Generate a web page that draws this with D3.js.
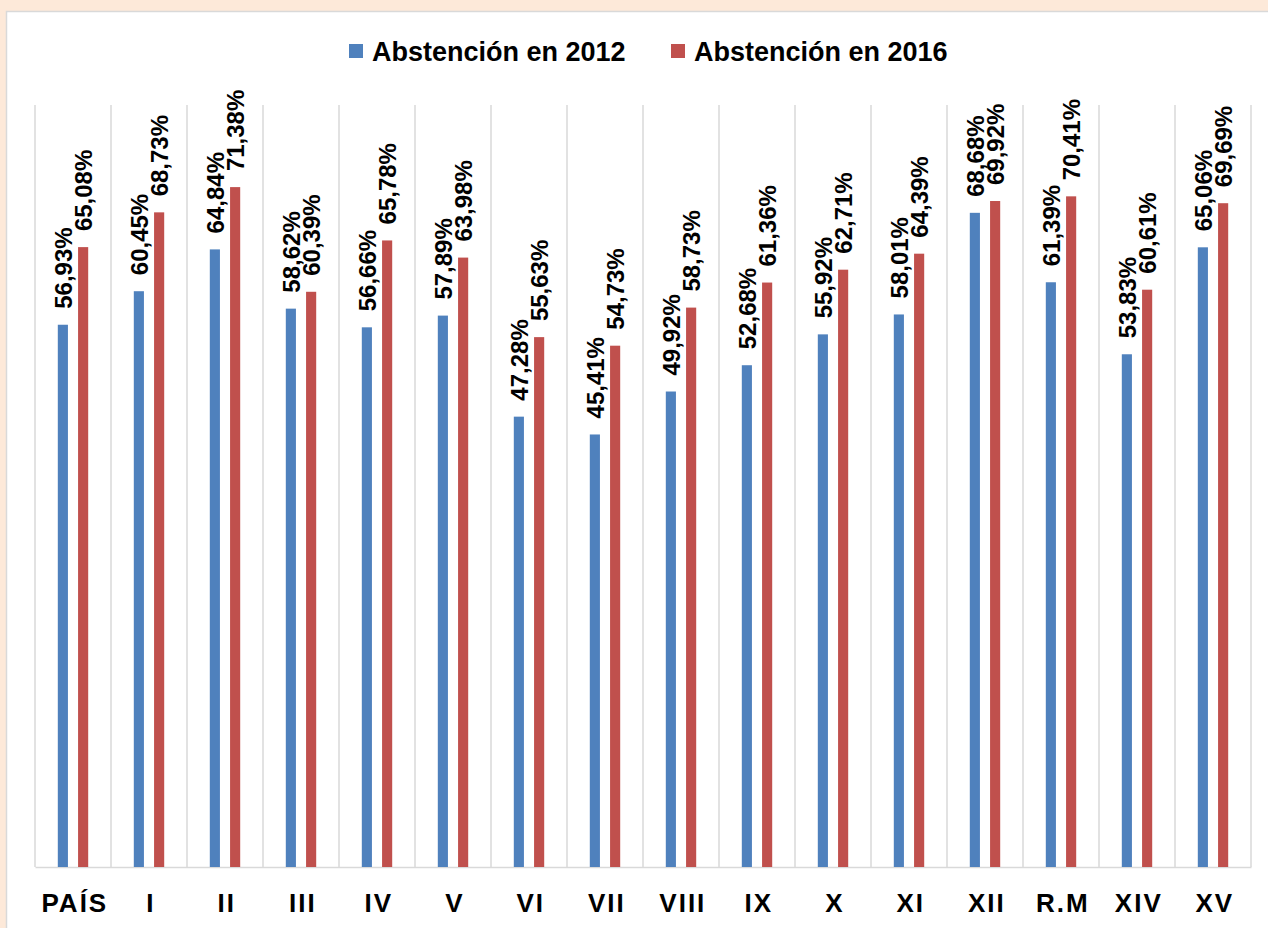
<!DOCTYPE html>
<html>
<head>
<meta charset="utf-8">
<script src="https://cdn.jsdelivr.net/npm/d3@7"></script>
<style>
  body { margin: 0; background: #fde9d9; }
  svg { display: block; font-family: "Liberation Sans", Arial, sans-serif; }
</style>
</head>
<body>
<svg></svg>
<script>
// data
const regions = ['PAÍS', 'I', 'II', 'III', 'IV', 'V', 'VI', 'VII', 'VIII', 'IX', 'X', 'XI', 'XII', 'R.M', 'XIV', 'XV'];
const abst2012 = [56.93, 60.45, 64.84, 58.62, 56.66, 57.89, 47.28, 45.41, 49.92, 52.68, 55.92, 58.01, 68.68, 61.39, 53.83, 65.06];
const abst2016 = [65.08, 68.73, 71.38, 60.39, 65.78, 63.98, 55.63, 54.73, 58.73, 61.36, 62.71, 64.39, 69.92, 70.41, 60.61, 69.69];
const seriesNames = ['Abstención en 2012', 'Abstención en 2016'];
const seriesColors = ['#4f81bd', '#c0504d'];

const size = {w: 1268, h: 928};
const plot = {l: 35, r: 1251, t: 105, b: 867};

const svg = d3.select('svg')
    .attr('width', size.w)
    .attr('height', size.h);

// white chart panel on the peach page
svg.append('rect')
    .attr('x', 6.5).attr('y', 11.5)
    .attr('width', size.w).attr('height', size.h)
    .attr('fill', '#fff')
    .attr('stroke', '#d9d9d9')
    .attr('stroke-width', 1.5);

// table built from the arrays
const rows = regions.map((r, i) => ({region: r, values: [abst2012[i], abst2016[i]]}));

const x0 = d3.scaleBand()
    .domain(regions)
    .range([plot.l, plot.r]);

const x1 = d3.scaleBand()
    .domain([0, 1])
    .range([x0.bandwidth() * 0.3, x0.bandwidth() * 0.7])
    .paddingInner(0.5);

const y = d3.scaleLinear()
    .domain([0, 80])
    .range([plot.b, plot.t]);

// vertical category separators
svg.append('g').classed('grid', true)
    .selectAll('line')
    .data(regions.concat(['__end']))
    .join('line')
    .attr('x1', (d, i) => i < regions.length ? x0(d) : plot.r)
    .attr('x2', (d, i) => i < regions.length ? x0(d) : plot.r)
    .attr('y1', plot.t)
    .attr('y2', plot.b)
    .attr('stroke', '#d9d9d9')
    .attr('stroke-width', 1.5);

// bottom axis, labels only
const xAxis = svg.append('g')
    .attr('transform', `translate(0,${plot.b})`)
    .call(d3.axisBottom(x0).tickSize(0).tickPadding(0));
xAxis.select('.domain').attr('stroke', '#d9d9d9').attr('stroke-width', 1.5);
xAxis.selectAll('text')
    .attr('y', 45)
    .attr('dy', 0)
    .attr('dx', '0.07em')
    .attr('fill', '#000')
    .style('font-family', '"Liberation Sans", Arial, sans-serif')
    .style('font-size', '26px')
    .style('font-weight', 'bold')
    .style('letter-spacing', '2px');

// bars
const groups = svg.append('g').classed('bars', true)
    .selectAll('g')
    .data(rows)
    .join('g')
    .attr('transform', d => `translate(${x0(d.region)},0)`);

groups.selectAll('rect')
    .data(d => d.values.map((v, i) => ({i, v})))
    .join('rect')
    .attr('x', d => x1(d.i))
    .attr('y', d => y(d.v))
    .attr('width', x1.bandwidth())
    .attr('height', d => y(0) - y(d.v))
    .attr('fill', d => seriesColors[d.i]);

// rotated value labels
const fmt = v => d3.format('.2f')(v).replace('.', ',') + '%';
groups.selectAll('text')
    .data(d => d.values.map((v, i) => ({i, v})))
    .join('text')
    .attr('transform', d => `translate(${x1(d.i) + x1.bandwidth() / 2},${y(d.v) - 16}) rotate(-90)`)
    .attr('dy', '0.36em')
    .attr('font-size', 24)
    .attr('font-weight', 'bold')
    .attr('fill', '#000')
    .text(d => fmt(d.v));

// legend
const legendX = [349, 671];
const legend = svg.append('g').classed('legend', true)
    .selectAll('g')
    .data(seriesNames)
    .join('g')
    .attr('transform', (d, i) => `translate(${legendX[i]},44)`);
legend.append('rect')
    .attr('width', 14).attr('height', 14)
    .attr('fill', (d, i) => seriesColors[i]);
legend.append('text')
    .attr('x', 23)
    .attr('y', 17)
    .attr('font-size', 27)
    .attr('font-weight', 'bold')
    .attr('fill', '#000')
    .text(d => d);
</script>
</body>
</html>
